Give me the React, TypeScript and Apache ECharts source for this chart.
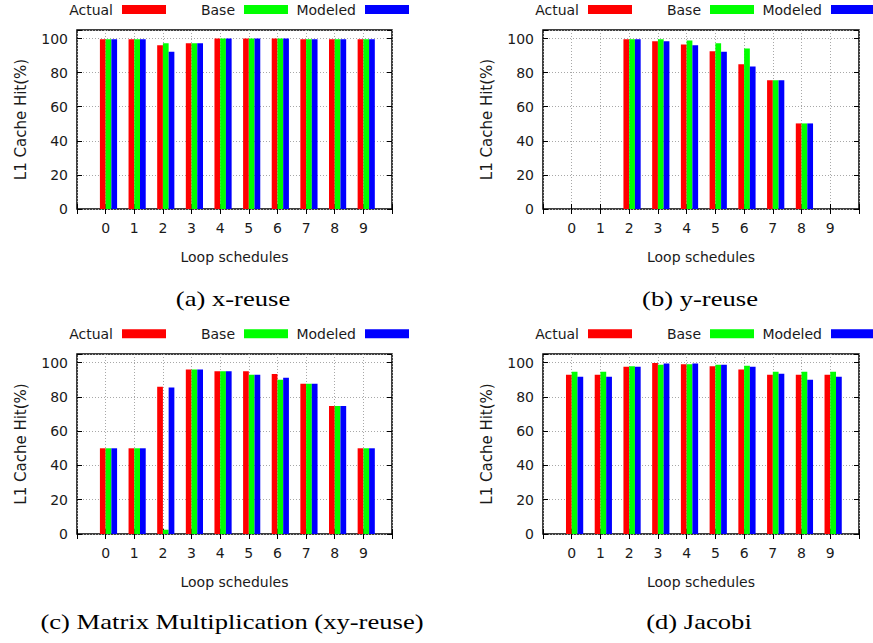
import { useEffect, useRef } from 'react';
import * as echarts from 'echarts';

// ---- data ----
const categories = ['0', '1', '2', '3', '4', '5', '6', '7', '8', '9'];
const seriesNames = ['Actual', 'Base', 'Modeled'];
const seriesColors = ['#ff0000', '#00ff00', '#0000ff'];
const yTickValues = [0, 20, 40, 60, 80, 100];

const xReuseActual = [99.6, 99.6, 96.1, 97.3, 100, 100, 100, 99.6, 99.6, 99.6];
const xReuseBase = [99.6, 99.6, 97.3, 97.3, 100, 100, 100, 99.6, 99.6, 99.6];
const xReuseModeled = [99.6, 99.6, 92.2, 97.3, 100, 100, 100, 99.6, 99.6, 99.6];

const yReuseActual = [0, 0, 99.6, 98.4, 96.5, 92.6, 84.9, 75.5, 50.2, 0];
const yReuseBase = [0, 0, 99.6, 99.6, 98.8, 97.3, 94.1, 75.5, 50.2, 0];
const yReuseModeled = [0, 0, 99.6, 98.4, 96.1, 92.2, 83.6, 75.5, 50.2, 0];

const mmActual = [50, 50, 85.9, 95.9, 94.9, 94.9, 93.3, 87.6, 74.7, 50];
const mmBase = [50, 50, 2.5, 95.9, 94.9, 92.9, 90.0, 87.6, 74.7, 50];
const mmModeled = [50, 50, 85.5, 95.9, 94.9, 92.9, 91.2, 87.6, 74.7, 50];

const jacobiActual = [92.9, 92.9, 97.6, 99.8, 99.0, 97.8, 95.9, 92.9, 92.9, 92.9];
const jacobiBase = [94.7, 94.7, 97.8, 98.8, 99.0, 98.8, 98.2, 94.7, 94.7, 94.7];
const jacobiModeled = [91.8, 91.8, 97.6, 99.4, 99.4, 98.8, 97.6, 93.5, 90.0, 91.8];

const captions = [
  '(a) x-reuse',
  '(b) y-reuse',
  '(c) Matrix Multiplication (xy-reuse)',
  '(d) Jacobi',
];
const panelData = [
  [xReuseActual, xReuseBase, xReuseModeled],
  [yReuseActual, yReuseBase, yReuseModeled],
  [mmActual, mmBase, mmModeled],
  [jacobiActual, jacobiBase, jacobiModeled],
];

// ---- layout ----
const layouts = [
  { left: 77, top: 30, width: 315, height: 179, legendY: 9.5, capX: 233, capY: 299 },
  { left: 543, top: 30, width: 316, height: 179, legendY: 9.5, capX: 700, capY: 299 },
  { left: 77, top: 354, width: 315, height: 180, legendY: 333.7, capX: 232, capY: 622 },
  { left: 543, top: 354, width: 316, height: 180, legendY: 333.7, capX: 699, capY: 622 },
];
const legendTextRight = [36, 158, 279];
const legendSwatchLeft = [45, 167, 288];
const SW_W = 44;
const SW_H = 9;

const SANS = 'DejaVu Sans';
const TXT = '#1a1a1a';
const FS = 14;
const GRID_LINE = { color: '#a8a8a8', width: 1, type: [1, 2] as number[] };

export default function App() {
  const ref = useRef<HTMLDivElement>(null);

  useEffect(() => {
    if (!ref.current) return;
    const chart = echarts.init(ref.current, undefined, { renderer: 'svg' });

    const axisCats = ['', ...categories, ''];
    const grids: any[] = [];
    const xAxes: any[] = [];
    const yAxes: any[] = [];
    const series: any[] = [];
    const graphics: any[] = [];

    layouts.forEach((L, i) => {
      grids.push({
        left: L.left,
        top: L.top,
        width: L.width,
        height: L.height,
        show: true,
        borderColor: '#000',
        borderWidth: 1.5,
        backgroundColor: 'transparent',
      });
      xAxes.push({
        type: 'category',
        gridIndex: i,
        data: axisCats,
        boundaryGap: false,
        position: 'bottom',
        axisLine: { show: false },
        axisTick: { show: true, inside: true, length: 5, interval: 0, lineStyle: { color: '#000', width: 1 } },
        axisLabel: { interval: 0, margin: 12, fontSize: FS, fontFamily: SANS, color: TXT },
        splitLine: { show: true, interval: 0, lineStyle: GRID_LINE },
        name: 'Loop schedules',
        nameLocation: 'middle',
        nameGap: 41,
        nameTextStyle: { fontSize: FS, fontFamily: SANS, color: TXT },
      });
      xAxes.push({
        type: 'category',
        gridIndex: i,
        data: axisCats,
        boundaryGap: false,
        position: 'top',
        axisLine: { show: false },
        axisTick: { show: true, inside: true, length: 5, interval: 0, lineStyle: { color: '#000', width: 1 } },
        axisLabel: { show: false },
        splitLine: { show: false },
      });
      yAxes.push({
        type: 'value',
        gridIndex: i,
        position: 'left',
        min: 0,
        max: 105,
        interval: 20,
        axisLine: { show: false },
        axisTick: { show: true, inside: true, length: 5, lineStyle: { color: '#000', width: 1 } },
        axisLabel: {
          margin: 9,
          fontSize: FS,
          fontFamily: SANS,
          color: TXT,
          formatter: (v: number) => (yTickValues.includes(v) ? String(v) : ''),
        },
        splitLine: { show: true, lineStyle: GRID_LINE },
        name: 'L1 Cache Hit(%)',
        nameLocation: 'middle',
        nameGap: 49,
        nameTextStyle: { fontSize: 15, fontFamily: SANS, color: TXT },
      });
      yAxes.push({
        type: 'value',
        gridIndex: i,
        position: 'right',
        min: 0,
        max: 105,
        interval: 20,
        axisLine: { show: false },
        axisTick: { show: true, inside: true, length: 5, lineStyle: { color: '#000', width: 1 } },
        axisLabel: { show: false },
        splitLine: { show: false },
      });

      // spacer series so the 3 visible bars sit at [x-0.2, x+0.4]
      series.push({
        type: 'bar',
        name: 'spacer' + i,
        xAxisIndex: 2 * i,
        yAxisIndex: 2 * i,
        barWidth: '20%',
        barGap: '0%',
        data: axisCats.map(() => '-'),
        silent: true,
      });
      panelData[i].forEach((vals, s) => {
        series.push({
          type: 'bar',
          name: seriesNames[s],
          xAxisIndex: 2 * i,
          yAxisIndex: 2 * i,
          barWidth: '20%',
          barGap: '0%',
          itemStyle: { color: seriesColors[s] },
          data: ['-', ...vals, '-'],
        });
      });

      // legend
      seriesNames.forEach((nm, s) => {
        graphics.push({
          type: 'text',
          x: L.left + legendTextRight[s],
          y: L.legendY,
          style: {
            text: nm,
            font: `${FS}px "${SANS}"`,
            fill: TXT,
            textAlign: 'right',
            textVerticalAlign: 'middle',
          },
        });
        graphics.push({
          type: 'rect',
          shape: {
            x: L.left + legendSwatchLeft[s],
            y: L.legendY - SW_H / 2,
            width: SW_W,
            height: SW_H,
          },
          style: { fill: seriesColors[s] },
        });
      });

      // caption
      graphics.push({
        type: 'text',
        x: L.capX,
        y: L.capY,
        scaleX: 1.33,
        style: {
          text: captions[i],
          font: '20px "Liberation Serif"',
          fill: '#000',
          textAlign: 'center',
          textVerticalAlign: 'middle',
        },
      });
    });

    chart.setOption({
      animation: false,
      backgroundColor: '#ffffff',
      grid: grids,
      xAxis: xAxes,
      yAxis: yAxes,
      series,
      graphic: graphics,
    });

    return () => chart.dispose();
  }, []);

  return (
    <div
      ref={ref}
      style={{ position: 'absolute', left: 0, top: 0, width: 873, height: 643 }}
    />
  );
}
